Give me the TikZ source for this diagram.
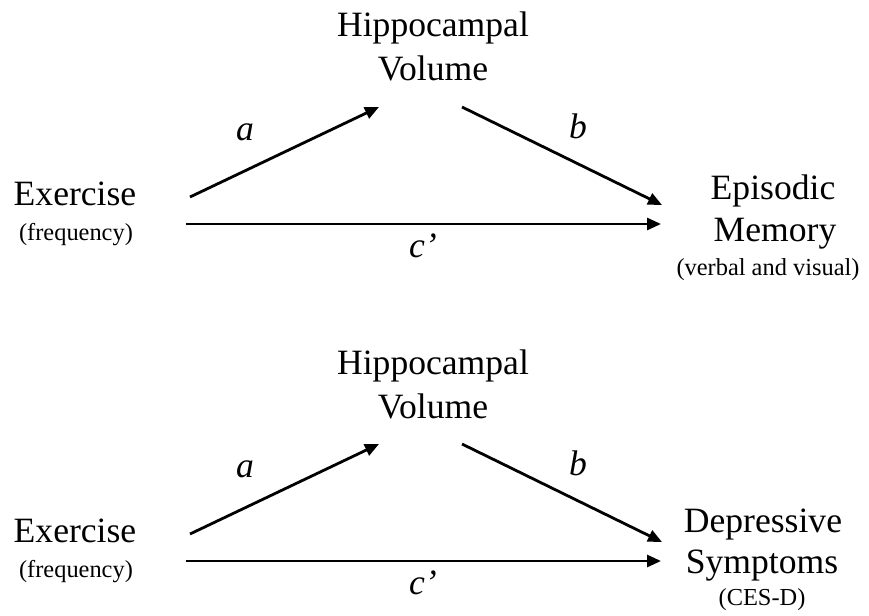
\documentclass[tikz,border=0pt]{standalone}
\usepackage{fontspec}
\setmainfont{Liberation Serif}
\usetikzlibrary{arrows.meta}
\begin{document}
\begin{tikzpicture}[x=1pt,y=-1pt,
  big/.style={anchor=base,inner sep=0pt,font=\fontsize{35.6}{42}\selectfont},
  small/.style={anchor=base,inner sep=0pt,font=\fontsize{24.4}{29}\selectfont},
  lab/.style={anchor=base,inner sep=0pt,font=\fontsize{35.6}{42}\selectfont\itshape},
  arr/.style={line width=2.8pt,-{Triangle[length=14pt,width=12pt]}}]
\useasboundingbox (0,0) rectangle (869,615);
% ---------- top diagram ----------
\node[big] (h1a) at (433,37) {Hippocampal};
\node[big] (h1b) at (433,81) {Volume};
\node[big] (x1a) at (75,205) {Exercise};
\node[small] (x1b) at (76,240) {(frequency)};
\node[big] (m1a) at (773,199) {Episodic};
\node[big] (m1b) at (775,241) {Memory};
\node[small] (m1c) at (768,275) {(verbal and visual)};
\coordinate (a1s) at (190,197);
\coordinate (a1e) at (379,107);
\coordinate (b1s) at (462,107);
\coordinate (b1e) at (662,205);
\coordinate (c1s) at (186,224);
\coordinate (c1e) at (661,224);
\draw[arr] (a1s) -- (a1e);
\draw[arr] (b1s) -- (b1e);
\draw[arr] (c1s) -- (c1e);
\node[lab] (la1) at (245,140) {a};
\node[lab] (lb1) at (578,138) {b};
\node[lab] (lc1) at (423,257) {c’};
% ---------- bottom diagram ----------
\begin{scope}[yshift=-337pt]
\node[big] (h2a) at (433,37) {Hippocampal};
\node[big] (h2b) at (433,81) {Volume};
\node[big] (x2a) at (75,205) {Exercise};
\node[small] (x2b) at (76,240) {(frequency)};
\node[big] (d2a) at (763,195) {Depressive};
\node[big] (d2b) at (762,236) {Symptoms};
\node[small] (d2c) at (762,268) {(CES-D)};
\coordinate (a2s) at (190,197);
\coordinate (a2e) at (379,107);
\coordinate (b2s) at (462,107);
\coordinate (b2e) at (662,205);
\coordinate (c2s) at (186,224);
\coordinate (c2e) at (661,224);
\draw[arr] (a2s) -- (a2e);
\draw[arr] (b2s) -- (b2e);
\draw[arr] (c2s) -- (c2e);
\node[lab] (la2) at (245,140) {a};
\node[lab] (lb2) at (578,138) {b};
\node[lab] (lc2) at (423,257) {c’};
\end{scope}
\end{tikzpicture}
\end{document}
